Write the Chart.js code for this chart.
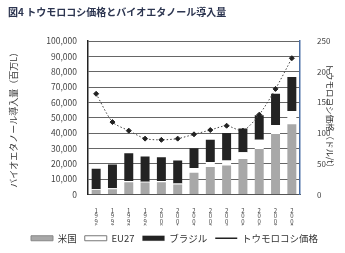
<!DOCTYPE html>
<html>
<head>
<meta charset="utf-8">
<script src="https://cdn.jsdelivr.net/npm/chart.js@4.4.1/dist/chart.umd.min.js"></script>
<style>
  body { margin: 0; background: #fff; }
  canvas { display: block; }
</style>
</head>
<body>
<canvas id="chart" width="345" height="253"></canvas>
<script>
// ---------------- DATA ----------------
const years = ["1996", "1997", "1998", "1999", "2000", "2001", "2002",
               "2003", "2004", "2005", "2006", "2007", "2008"];

// bioethanol volume, million L (stacked)
const usa    = [3000, 3500, 8000, 7800, 8000, 6500, 14200, 17900, 18900, 23200, 29700, 39400, 45800];
const eu27   = [500,  500,  800,  500,  800,  600,  3000,  3200,  3200,  4300,  6000,  5800,  8600];
const brazil = [13300, 15600, 18100, 16400, 15500, 15000, 12900, 14600, 17900, 15500, 15900, 20400, 22200];

// corn price, right axis
const cornPrice = [164, 118, 104, 91, 89, 91, 98, 105, 112, 104, 130, 172, 222];

const leftTicksMax = 100000;
const rightTicksMax = 250;

const FONT = "'Noto Sans CJK JP', 'Noto Sans', sans-serif";
Chart.defaults.font.family = FONT;
Chart.defaults.color = "#333";

// ---------------- CHART ----------------
new Chart(document.getElementById("chart"), {
    type: "bar",
    data: {
        labels: years.map(y => y.split("")),   // vertical year labels
        datasets: [
            {
                label: "米国",
                data: usa,
                backgroundColor: "#a8a8a8",
                barPercentage: 0.55,
                categoryPercentage: 1,
                order: 1
            },
            {
                label: "EU27",
                data: eu27,
                backgroundColor: "#ffffff",
                barPercentage: 0.55,
                categoryPercentage: 1,
                order: 1
            },
            {
                label: "ブラジル",
                data: brazil,
                backgroundColor: "#232323",
                barPercentage: 0.55,
                categoryPercentage: 1,
                order: 1
            },
            {
                type: "line",
                label: "トウモロコシ価格",
                data: cornPrice,
                yAxisID: "y2",
                borderColor: "#444",
                borderWidth: 1,
                borderDash: [1.5, 2],
                pointStyle: "rectRot",
                pointRadius: 2.5,
                pointBackgroundColor: "#222",
                pointBorderColor: "#222",
                tension: 0.25,
                order: 0
            }
        ]
    },
    options: {
        responsive: false,
        animation: false,
        layout: { padding: { top: 4, left: 8, right: 4, bottom: 0 } },
        plugins: {
            title: {
                display: true,
                text: "図4 トウモロコシ価格とバイオエタノール導入量",
                align: "start",
                color: "#2c3550",
                font: { size: 10, weight: "bold" },
                padding: { top: 2, bottom: 23 }
            },
            legend: {
                position: "bottom",
                labels: {
                    usePointStyle: true,
                    pointStyleWidth: 22,
                    boxHeight: 5,
                    padding: 8,
                    font: { size: 9.5 },
                    sort: (a, b) => a.datasetIndex - b.datasetIndex,
                    generateLabels: chart => {
                        const items = Chart.defaults.plugins.legend.labels.generateLabels(chart);
                        items.forEach(it => {
                            it.lineWidth = 1;
                            it.pointStyle = "rect";
                            it.rotation = 0;
                            if (it.datasetIndex === 0) it.strokeStyle = "#888";
                            if (it.datasetIndex === 1) it.strokeStyle = "#777";
                            if (it.datasetIndex === 3) {
                                it.pointStyle = "line";
                                it.lineDash = [];
                                it.lineWidth = 1.5;
                                it.strokeStyle = "#222";
                            }
                        });
                        return items;
                    }
                }
            },
            tooltip: { enabled: false }
        },
        scales: {
            x: {
                stacked: true,
                grid: { display: false },
                border: { color: "#555" },
                ticks: {
                    maxRotation: 0,
                    autoSkip: false,
                    font: { size: 6, lineHeight: 0.85 },
                    color: "#444",
                    padding: 6
                },
                afterFit: s => { s.height = 31; }
            },
            y: {
                stacked: true,
                min: 0,
                max: leftTicksMax,
                ticks: {
                    stepSize: 10000,
                    font: { size: 8.5 },
                    color: "#444",
                    padding: 11,
                    callback: v => v.toLocaleString("en-US")
                },
                grid: { color: "#666", lineWidth: 1, drawTicks: false },
                border: { color: "#222", width: 1.5 },
                title: {
                    display: true,
                    text: "バイオエタノール導入量（百万L）",
                    font: { size: 9 },
                    color: "#333",
                    padding: { top: 0, bottom: 8 }
                },
                afterFit: s => { s.width = 80; }
            },
            y2: {
                position: "right",
                min: 0,
                max: rightTicksMax,
                ticks: {
                    stepSize: 50,
                    font: { size: 8 },
                    color: "#444",
                    padding: 9
                },
                grid: { display: false },
                border: { color: "#4a6fa5", width: 1.5 },
                title: {
                    display: true,
                    text: "トウモロコシ価格（ドル/t）",
                    font: { size: 8.5 },
                    color: "#333",
                    padding: { top: 6, bottom: 0 }
                },
                afterFit: s => { s.width = 41; }
            }
        }
    }
});
</script>
</body>
</html>
